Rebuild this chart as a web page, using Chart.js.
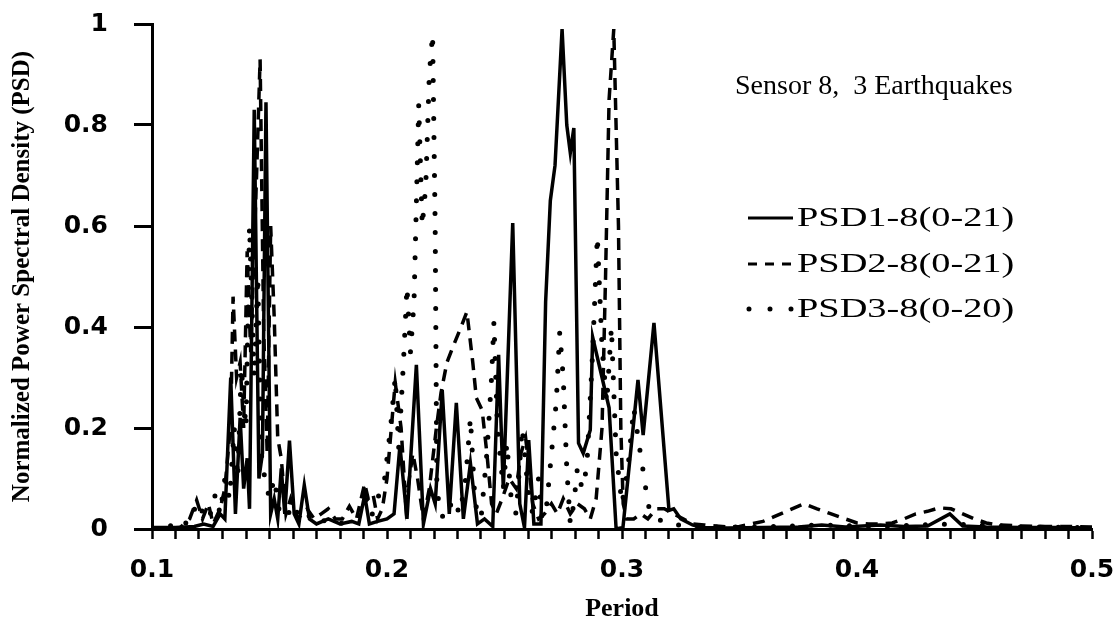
<!DOCTYPE html>
<html>
<head>
<meta charset="utf-8">
<title>Sensor 8 PSD</title>
<script src="https://cdn.jsdelivr.net/npm/chart.js@4.4.1/dist/chart.umd.min.js"></script>
<style>
  html, body { margin: 0; padding: 0; background: #fff; }
  #wrap { width: 1119px; height: 627px; }
</style>
</head>
<body>
<div id="wrap"><canvas id="psdChart" width="1119" height="627"></canvas></div>
<script>
// values (period vs normalized PSD)
const psd1X = [0.100, 0.110, 0.118, 0.122, 0.126, 0.129, 0.131, 0.1335, 0.1355, 0.1375, 0.139, 0.1405, 0.1415, 0.1435, 0.1455, 0.147, 0.1485, 0.1505, 0.152, 0.1535, 0.155, 0.1565, 0.1585, 0.1605, 0.1625, 0.1648, 0.167, 0.170, 0.175, 0.180, 0.185, 0.188, 0.1905, 0.1925, 0.196, 0.200, 0.203, 0.2055, 0.2085, 0.2125, 0.2155, 0.2185, 0.2205, 0.2235, 0.2265, 0.2295, 0.2325, 0.2355, 0.2385, 0.2415, 0.245, 0.2475, 0.2495, 0.2535, 0.2565, 0.2585, 0.2603, 0.2625, 0.2655, 0.2675, 0.2695, 0.2715, 0.2745, 0.2765, 0.278, 0.2795, 0.2815, 0.2835, 0.2865, 0.2875, 0.2945, 0.2975, 0.3004, 0.3068, 0.309, 0.3136, 0.320, 0.322, 0.325, 0.330, 0.3337, 0.345, 0.360, 0.375, 0.385, 0.395, 0.410, 0.420, 0.430, 0.4395, 0.445, 0.455, 0.470, 0.485, 0.500];
const psd1Y = [0.003, 0.003, 0.005, 0.010, 0.005, 0.030, 0.020, 0.300, 0.030, 0.220, 0.080, 0.140, 0.040, 0.830, 0.100, 0.150, 0.845, 0.030, 0.060, 0.020, 0.120, 0.030, 0.175, 0.030, 0.010, 0.087, 0.020, 0.010, 0.020, 0.010, 0.015, 0.010, 0.067, 0.010, 0.015, 0.020, 0.030, 0.165, 0.020, 0.325, 0.010, 0.080, 0.050, 0.275, 0.030, 0.250, 0.020, 0.130, 0.010, 0.020, 0.005, 0.345, 0.080, 0.606, 0.050, 0.003, 0.176, 0.010, 0.010, 0.450, 0.650, 0.720, 0.990, 0.800, 0.745, 0.794, 0.170, 0.150, 0.196, 0.380, 0.240, 0.000, 0.003, 0.295, 0.186, 0.408, 0.037, 0.040, 0.020, 0.008, 0.003, 0.002, 0.003, 0.004, 0.008, 0.004, 0.008, 0.005, 0.006, 0.030, 0.006, 0.004, 0.003, 0.003, 0.002];

const psd2X = [0.100, 0.112, 0.116, 0.119, 0.1215, 0.124, 0.126, 0.129, 0.131, 0.1335, 0.1345, 0.136, 0.1375, 0.139, 0.1405, 0.142, 0.1445, 0.146, 0.1475, 0.149, 0.1505, 0.152, 0.1535, 0.155, 0.157, 0.159, 0.162, 0.166, 0.169, 0.172, 0.175, 0.178, 0.181, 0.184, 0.187, 0.1905, 0.192, 0.194, 0.196, 0.198, 0.200, 0.2035, 0.206, 0.208, 0.211, 0.213, 0.2155, 0.218, 0.221, 0.223, 0.2255, 0.228, 0.2315, 0.234, 0.2365, 0.238, 0.2405, 0.2425, 0.2445, 0.2465, 0.249, 0.252, 0.255, 0.257, 0.259, 0.2605, 0.262, 0.2645, 0.267, 0.270, 0.2725, 0.275, 0.278, 0.281, 0.284, 0.2865, 0.289, 0.2915, 0.293, 0.2945, 0.2965, 0.2985, 0.2995, 0.3005, 0.302, 0.305, 0.308, 0.311, 0.3145, 0.318, 0.322, 0.326, 0.330, 0.335, 0.340, 0.345, 0.350, 0.355, 0.360, 0.365, 0.370, 0.3775, 0.383, 0.389, 0.395, 0.400, 0.405, 0.410, 0.415, 0.420, 0.425, 0.430, 0.435, 0.440, 0.445, 0.450, 0.455, 0.460, 0.470, 0.480, 0.490, 0.500];
const psd2Y = [0.000, 0.003, 0.020, 0.057, 0.020, 0.050, 0.010, 0.040, 0.080, 0.210, 0.460, 0.300, 0.330, 0.200, 0.550, 0.350, 0.700, 0.930, 0.400, 0.150, 0.600, 0.420, 0.180, 0.140, 0.030, 0.060, 0.020, 0.040, 0.020, 0.030, 0.040, 0.020, 0.020, 0.045, 0.020, 0.090, 0.060, 0.070, 0.020, 0.040, 0.100, 0.290, 0.200, 0.050, 0.150, 0.100, 0.020, 0.080, 0.200, 0.270, 0.330, 0.360, 0.400, 0.430, 0.330, 0.260, 0.235, 0.150, 0.050, 0.030, 0.060, 0.100, 0.080, 0.150, 0.180, 0.120, 0.050, 0.020, 0.030, 0.050, 0.030, 0.060, 0.030, 0.050, 0.040, 0.020, 0.060, 0.200, 0.500, 0.850, 0.990, 0.600, 0.200, 0.050, 0.020, 0.020, 0.030, 0.020, 0.040, 0.040, 0.030, 0.020, 0.010, 0.008, 0.006, 0.004, 0.005, 0.010, 0.015, 0.025, 0.035, 0.050, 0.040, 0.030, 0.020, 0.012, 0.010, 0.010, 0.012, 0.020, 0.030, 0.035, 0.042, 0.040, 0.030, 0.020, 0.012, 0.008, 0.006, 0.005, 0.005, 0.004];

const psd3X = [0.100, 0.105, 0.110, 0.112, 0.115, 0.118, 0.120, 0.1225, 0.125, 0.127, 0.129, 0.131, 0.133, 0.135, 0.1365, 0.138, 0.140, 0.1415, 0.1435, 0.145, 0.1465, 0.148, 0.150, 0.152, 0.154, 0.156, 0.158, 0.160, 0.163, 0.166, 0.170, 0.175, 0.180, 0.185, 0.190, 0.193, 0.196, 0.199, 0.2015, 0.2035, 0.205, 0.207, 0.2085, 0.210, 0.2115, 0.2135, 0.215, 0.2165, 0.218, 0.2194, 0.2205, 0.2212, 0.2225, 0.225, 0.228, 0.231, 0.2335, 0.2355, 0.2375, 0.240, 0.2425, 0.2445, 0.2455, 0.247, 0.2495, 0.251, 0.253, 0.255, 0.2575, 0.260, 0.262, 0.2645, 0.266, 0.268, 0.270, 0.272, 0.2735, 0.275, 0.2765, 0.278, 0.2795, 0.281, 0.283, 0.285, 0.2875, 0.2895, 0.2915, 0.2935, 0.2955, 0.2975, 0.300, 0.3025, 0.305, 0.3075, 0.3095, 0.311, 0.3125, 0.315, 0.320, 0.330, 0.340, 0.360, 0.385, 0.410, 0.440, 0.470, 0.500];
const psd3Y = [0.000, 0.002, 0.010, 0.020, 0.010, 0.040, 0.020, 0.050, 0.030, 0.070, 0.030, 0.100, 0.060, 0.200, 0.100, 0.320, 0.200, 0.600, 0.300, 0.500, 0.150, 0.100, 0.060, 0.100, 0.040, 0.070, 0.030, 0.050, 0.020, 0.030, 0.010, 0.020, 0.010, 0.020, 0.030, 0.020, 0.060, 0.100, 0.200, 0.300, 0.160, 0.330, 0.480, 0.350, 0.450, 0.840, 0.600, 0.680, 0.900, 0.980, 0.600, 0.090, 0.030, 0.020, 0.060, 0.030, 0.100, 0.220, 0.050, 0.020, 0.150, 0.300, 0.410, 0.200, 0.080, 0.170, 0.050, 0.030, 0.200, 0.080, 0.030, 0.100, 0.020, 0.050, 0.150, 0.250, 0.390, 0.300, 0.120, 0.010, 0.050, 0.120, 0.080, 0.120, 0.350, 0.580, 0.360, 0.250, 0.400, 0.150, 0.050, 0.120, 0.240, 0.160, 0.100, 0.050, 0.030, 0.020, 0.010, 0.005, 0.004, 0.004, 0.008, 0.005, 0.010, 0.004, 0.003];

const seriesNames = ['PSD1-8(0-21)', 'PSD2-8(0-21)', 'PSD3-8(0-20)'];
const xTickValues = [0.1, 0.2, 0.3, 0.4, 0.5];

function toPoints(xs, ys) {
  return xs.map((x, i) => ({ x: x, y: ys[i] }));
}

const serif = '"Liberation Serif", "Times New Roman", serif';
const sans = '"DejaVu Sans", Arial, sans-serif';

// annotation text and hand-made legend, like in the original figure
const notesPlugin = {
  id: 'notes',
  afterDatasetsDraw(chart) {
    const ctx = chart.ctx;
    ctx.save();
    ctx.fillStyle = '#000';
    ctx.textBaseline = 'middle';
    ctx.font = '28px ' + serif;
    ctx.fillText('Sensor 8,  3 Earthquakes', 735, 87);

    const rows = [
      { y: 218, dash: [], cap: 'butt', width: 3 },
      { y: 264, dash: [9, 8], cap: 'butt', width: 3 },
      { y: 309, dash: [0, 21], cap: 'round', width: 5 }
    ];
    rows.forEach((r, i) => {
      ctx.beginPath();
      ctx.setLineDash(r.dash);
      ctx.lineCap = r.cap;
      ctx.lineWidth = r.width;
      ctx.strokeStyle = '#000';
      ctx.moveTo(i === 2 ? 749 : 748, r.y);
      ctx.lineTo(793, r.y);
      ctx.stroke();
      ctx.save();
      ctx.translate(797, r.y + 1);
      ctx.scale(1.42, 1);
      ctx.font = '27px ' + serif;
      ctx.fillText(seriesNames[i], 0, 0);
      ctx.restore();
    });
    ctx.restore();
  }
};

// drop the label overhang padding so the plot box sits where the original one does
function noOverhang(s) {
  s.paddingTop = 0;
  s.paddingBottom = 0;
  s.paddingLeft = 0;
  s.paddingRight = 0;
}

const ctx = document.getElementById('psdChart').getContext('2d');
new Chart(ctx, {
  type: 'line',
  data: {
    datasets: [
      {
        label: seriesNames[0],
        data: toPoints(psd1X, psd1Y),
        borderColor: '#000',
        borderWidth: 3.5,
        pointRadius: 0,
        tension: 0
      },
      {
        label: seriesNames[1],
        data: toPoints(psd2X, psd2Y),
        borderColor: '#000',
        borderWidth: 3.5,
        borderDash: [12, 8],
        pointRadius: 0,
        tension: 0
      },
      {
        label: seriesNames[2],
        data: toPoints(psd3X, psd3Y),
        borderColor: '#000',
        borderWidth: 5,
        borderDash: [0, 19],
        borderCapStyle: 'round',
        pointRadius: 0,
        tension: 0
      }
    ]
  },
  options: {
    responsive: false,
    animation: false,
    devicePixelRatio: 1,
    layout: { padding: { left: 0, right: 27, top: 24, bottom: 0 } },
    plugins: {
      legend: { display: false },
      tooltip: { enabled: false }
    },
    scales: {
      x: {
        type: 'linear',
        min: 0.1,
        max: 0.5,
        afterFit: (s) => { s.height = 98; noOverhang(s); },
        border: { display: true, color: '#000', width: 3 },
        grid: {
          drawOnChartArea: false,
          tickLength: 10,
          tickColor: '#000',
          tickWidth: 2.5
        },
        ticks: {
          stepSize: 0.01,
          autoSkip: false,
          maxRotation: 0,
          padding: 16,
          color: '#000',
          font: { family: sans, size: 25, weight: 'bold' },
          callback: (v) => {
            const t = xTickValues.find(m => Math.abs(m - v) < 1e-6);
            return t === undefined ? '' : t.toFixed(1);
          }
        },
        title: {
          display: true,
          text: 'Period',
          color: '#000',
          font: { family: serif, size: 26, weight: 'bold' },
          padding: { top: 0, bottom: 2 }
        }
      },
      y: {
        min: 0,
        max: 1,
        afterFit: (s) => { s.width = 152; noOverhang(s); },
        border: { display: true, color: '#000', width: 3 },
        grid: {
          drawOnChartArea: false,
          tickLength: 18,
          tickColor: '#000',
          tickWidth: 3
        },
        ticks: {
          stepSize: 0.2,
          padding: 26,
          color: '#000',
          font: { family: sans, size: 25, weight: 'bold' },
          callback: (v) => String(Math.round(v * 10) / 10)
        },
        title: {
          display: true,
          text: 'Normalized Power Spectral Density (PSD)',
          color: '#000',
          font: { family: serif, size: 25, weight: 'bold' },
          padding: { top: 8, bottom: 0 }
        }
      }
    }
  },
  plugins: [notesPlugin]
});
</script>
</body>
</html>
